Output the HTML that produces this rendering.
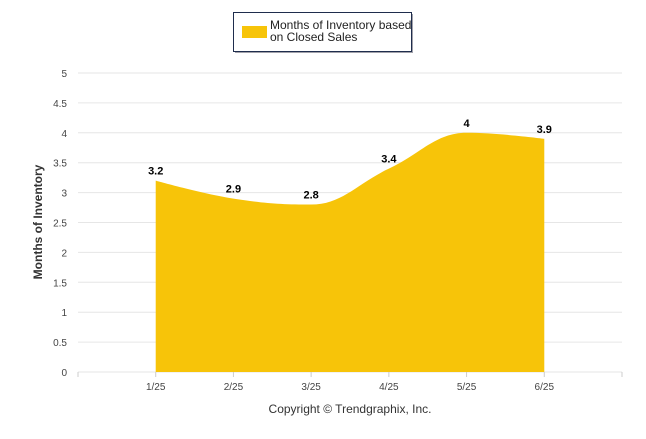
<!DOCTYPE html>
<html><head><meta charset="utf-8"><style>
body{margin:0;background:#fff;font-family:"Liberation Sans",sans-serif}
</style></head><body>
<svg width="646" height="434" viewBox="0 0 646 434" xmlns="http://www.w3.org/2000/svg">
<g>
<rect x="235" y="14" width="178" height="39" fill="#445" opacity="0.5"/>
<rect x="233.5" y="12.5" width="178" height="39" fill="#fff" stroke="#1f2d4d" stroke-width="1"/>
<rect x="242" y="26" width="25" height="12" fill="#f7c409"/>
<text x="270" y="29" font-size="12" fill="#222">Months of Inventory based</text>
<text x="270" y="41" font-size="12" fill="#222">on Closed Sales</text>
</g>
<g id="grid"></g>
<g id="area"></g>
<g id="labels"></g>
<text transform="translate(42,222) rotate(-90)" text-anchor="middle" font-size="12" font-weight="bold" fill="#333">Months of Inventory</text>
<text x="350" y="413" text-anchor="middle" font-size="12" fill="#333">Copyright © Trendgraphix, Inc.</text>
</svg>
<script>
const categories=["1/25","2/25","3/25","4/25","5/25","6/25"];
const values=[3.2,2.9,2.8,3.4,4,3.9];
const yTicks=[0,0.5,1,1.5,2,2.5,3,3.5,4,4.5,5];
const NS="http://www.w3.org/2000/svg";
const x0=78,x1=622,step=(x1-x0)/7;
const X=i=>x0+step*(i+1);
const Y=v=>372-v*59.8;
function mk(t,a,p){const e=document.createElementNS(NS,t);for(const k in a)e.setAttribute(k,a[k]);p.appendChild(e);return e;}
const grid=document.getElementById('grid');
yTicks.forEach(v=>{
 const l=mk('line',{x1:x0,x2:x1,y1:Y(v),y2:Y(v),stroke:'#e6e6e6','stroke-width':1},grid);
 
 
 const t=mk('text',{x:67,y:Y(v)+4,'text-anchor':'end','font-size':10,fill:'#444'},grid);
 t.textContent=v;
 
 
});
for(let i=0;i<8;i++){
 const l=mk('line',{x1:x0+step*i,x2:x0+step*i,y1:372,y2:377,stroke:'#ccc'},grid);
 
 
}
categories.forEach((c,i)=>{
 const t=mk('text',{x:X(i),y:390,'text-anchor':'middle','font-size':10,fill:'#444'},grid);
 t.textContent=c;
 
 
});
const pts=values.map((v,i)=>[X(i),Y(v)]);
let d=`M${pts[0][0]},372 L${pts[0][0]},${pts[0][1]}`;
const sm=1.5,den=sm+1;
function ctrl(i){
 const p=pts[i],pr=pts[i-1]||p,nx=pts[i+1]||p;
 let lx=(sm*p[0]+pr[0])/den,ly=(sm*p[1]+pr[1])/den,rx=(sm*p[0]+nx[0])/den,ry=(sm*p[1]+nx[1])/den;
 if(i>0&&i<pts.length-1){const corr=((ry-ly)*(rx-p[0]))/(rx-lx)+p[1]-ry;ly+=corr;ry+=corr;
  if(ly>pr[1]&&ly>p[1]){ly=Math.max(pr[1],p[1]);ry=2*p[1]-ly;}else if(ly<pr[1]&&ly<p[1]){ly=Math.min(pr[1],p[1]);ry=2*p[1]-ly;}
  if(ry>nx[1]&&ry>p[1]){ry=Math.max(nx[1],p[1]);ly=2*p[1]-ry;}else if(ry<nx[1]&&ry<p[1]){ry=Math.min(nx[1],p[1]);ly=2*p[1]-ry;}
 } else {lx=p[0];ly=p[1];rx=p[0];ry=p[1];}
 return [lx,ly,rx,ry];
}
const cs=pts.map((_,i)=>ctrl(i));
for(let i=1;i<pts.length;i++){d+=` C${cs[i-1][2]},${cs[i-1][3]} ${cs[i][0]},${cs[i][1]} ${pts[i][0]},${pts[i][1]}`;}
d+=` L${pts[pts.length-1][0]},372 Z`;
const a=mk('path',{d:d,fill:'#f7c409'},document.getElementById('area'));


const lab=document.getElementById('labels');
values.forEach((v,i)=>{
 const t=mk('text',{x:X(i),y:Y(v)-6,'text-anchor':'middle','font-size':11,'font-weight':'bold',fill:'#000'},lab);
 t.textContent=v;
 
 
});
</script>
</body></html>
